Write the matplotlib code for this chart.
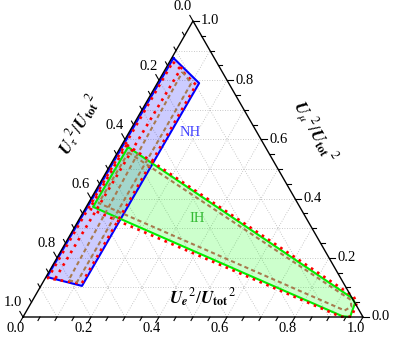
import numpy as np
import matplotlib
matplotlib.use("Agg")
import matplotlib.pyplot as plt

plt.rcParams['font.family'] = ['Liberation Serif', 'DejaVu Serif']
plt.rcParams['mathtext.fontset'] = 'stix'

# ternary data, points given as (Ue^2, Umu^2); Utau^2 = 1 - the rest
nh_region = [(0.005, 0.875), (0.123, 0.790), (0.121, 0.105), (0.003, 0.135)]
nh_red = [(0.010, 0.862), (0.117, 0.784), (0.116, 0.112), (0.008, 0.131)]
nh_red_inner = [(0.045, 0.845), (0.030, 0.125)]
nh_brown = [(0.055, 0.828), (0.100, 0.790), (0.100, 0.118), (0.072, 0.124)]

ih_region = [(0.022, 0.574), (0.936, 0.064), (0.953, 0.047), (0.962, 0.000),
             (0.937, 0.003), (0.020, 0.372)]
ih_red = [(0.014, 0.582), (0.938, 0.069), (0.958, 0.048), (0.966, 0.001),
          (0.934, 0.001), (0.013, 0.366)]
ih_brown = [(0.032, 0.556), (0.935, 0.058), (0.948, 0.035), (0.935, 0.022),
            (0.030, 0.385)]

nh_label_pos = (0.18, 0.622)
ih_label_pos = (0.345, 0.334)

tick_values = [0.0, 0.2, 0.4, 0.6, 0.8, 1.0]
tick_labels = ['0.0', '0.2', '0.4', '0.6', '0.8', '1.0']

S3 = np.sqrt(3) / 2
PX = 1 / 340.0  # one pixel in data units


def to_xy(pts):
    pts = np.asarray(pts, dtype=float)
    e, mu = pts[:, 0], pts[:, 1]
    return e + mu / 2, mu * S3


def closed(pts):
    return list(pts) + [pts[0]]


fig = plt.figure(figsize=(3.93, 3.41), dpi=100)
ax = fig.add_axes([0, 0, 1, 1])
ax.set_xlim(-23 * PX, 370 * PX)
ax.set_ylim(-24 / 341.8, 317 / 341.8)
ax.axis('off')

# grid
for v in np.arange(0.1, 1.0, 0.1):
    x, y = to_xy([(0, v), (1 - v, v)])
    ax.plot(x, y, ls=(0, (1, 2)), color='#b8b8b8', lw=0.6, zorder=1)
    x, y = to_xy([(v, 0), (v, 1 - v)])
    ax.plot(x, y, ls=(0, (1, 2)), color='#b8b8b8', lw=0.6, zorder=1)
    x, y = to_xy([(1 - v, 0), (0, 1 - v)])
    ax.plot(x, y, ls=(0, (1, 2)), color='#b8b8b8', lw=0.6, zorder=1)

# regions
x, y = to_xy(nh_region)
ax.fill(x, y, color='blue', alpha=0.2, lw=0, zorder=2)
ax.plot(*to_xy(closed(nh_region)), color='blue', lw=1.5, zorder=4)
x, y = to_xy(ih_region)
ax.fill(x, y, color='#00ff00', alpha=0.2, lw=0, zorder=2)
ax.plot(*to_xy(closed(ih_region)), color='#00ee00', lw=1.5, zorder=4)

for pts in [closed(nh_red), nh_red_inner, closed(ih_red)]:
    ax.plot(*to_xy(pts), color='red', lw=1.9, ls=(0, (1, 1.8)), zorder=5)
for pts in [closed(nh_brown), closed(ih_brown)]:
    ax.plot(*to_xy(pts), color='#a87a4e', lw=1.5, ls=(0, (2, 1.5)), zorder=5)

nx, ny = to_xy([nh_label_pos])
ax.text(nx[0], ny[0], 'NH', color='#4444ff', fontsize=10.5,
        ha='center', va='center', zorder=6)
ix, iy = to_xy([ih_label_pos])
ax.text(ix[0], iy[0], 'IH', color='#33bb33', fontsize=10.5,
        ha='center', va='center', zorder=6)

# triangle
ax.plot(*to_xy([(0, 0), (1, 0), (0, 1), (0, 0)]), color='black', lw=1.0, zorder=7)

# ticks
tl = 4 * PX
for v in np.arange(0, 1.0001, 0.05):
    major = abs(v * 5 - round(v * 5)) < 1e-6
    L = tl * (1.6 if major else 1.0)
    bx, by = to_xy([(v, 0)])
    ax.plot([bx[0], bx[0] - 0.5 * L], [by[0], by[0] - S3 * L], color='black', lw=0.8)
    rx, ry = to_xy([(1 - v, v)])
    ax.plot([rx[0], rx[0] + L], [ry[0], ry[0]], color='black', lw=0.8)
    lx, ly = to_xy([(0, 1 - v)])
    ax.plot([lx[0], lx[0] - 0.5 * L], [ly[0], ly[0] + S3 * L], color='black', lw=0.8)

for v, lab in zip(tick_values, tick_labels):
    bx, by = to_xy([(v, 0)])
    ax.text(bx[0] - 7 * PX, by[0] - 11 * PX, lab, fontsize=10.5, ha='center', va='center')
    rx, ry = to_xy([(1 - v, v)])
    ax.text(rx[0] + 8 * PX, ry[0], lab, fontsize=10.5, ha='left', va='center')
    lx, ly = to_xy([(0, 1 - v)])
    ax.text(lx[0] - 10 * PX, ly[0] + 14 * PX, lab, fontsize=10.5, ha='center', va='center')

# axis titles
ax.text(202 * PX - 23 * PX, (317 - 298) / 341.8,
        r'$\mathbfit{U}_{\mathbfit{e}}{}^{2}/\mathbfit{U}_{\mathbf{tot}}{}^{2}$',
        fontsize=12.5, ha='center', va='center')
ax.text(80 * PX - 23 * PX, (317 - 125) / 341.8,
        r'$\mathbfit{U}_{\tau}{}^{2}/\mathbfit{U}_{\mathbf{tot}}{}^{2}$',
        fontsize=12.5, ha='center', va='center', rotation=60)
ax.text(314 * PX - 23 * PX, (317 - 132) / 341.8,
        r'$\mathbfit{U}_{\mu}{}^{2}/\mathbfit{U}_{\mathbf{tot}}{}^{2}$',
        fontsize=12.5, ha='center', va='center', rotation=-60)

fig.savefig('out.png', dpi=100)
